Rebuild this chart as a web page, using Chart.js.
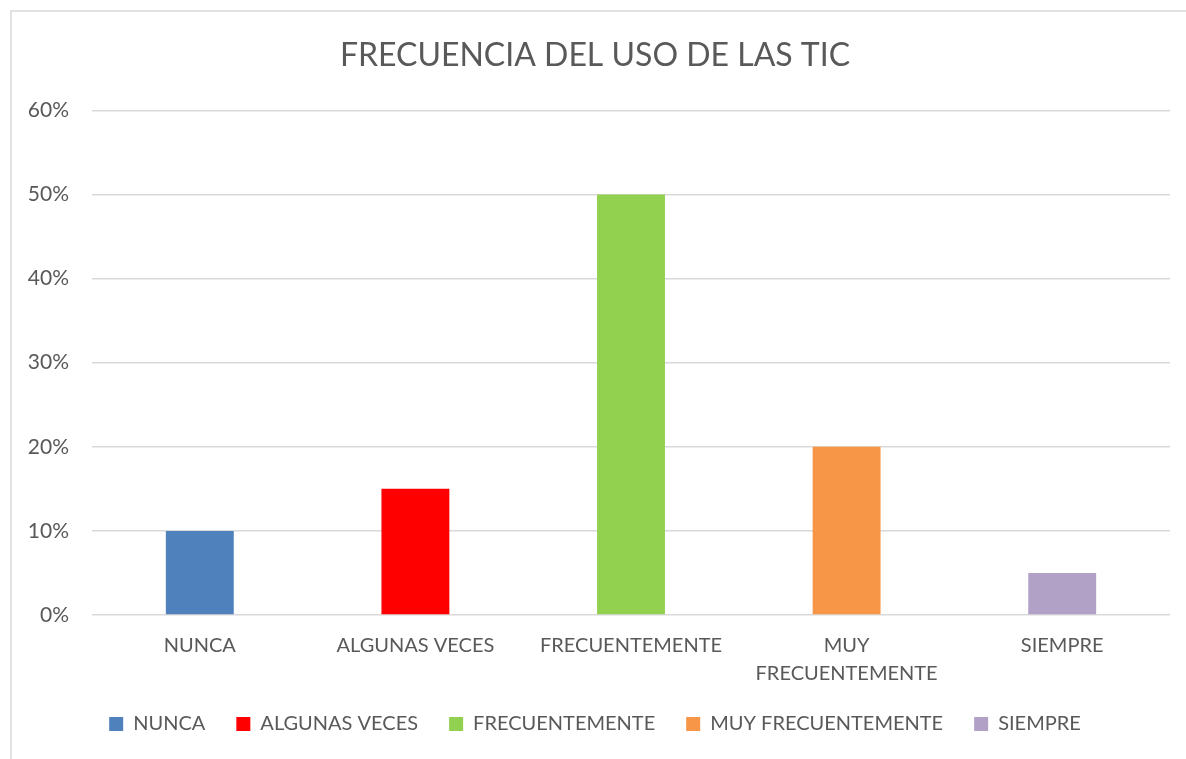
<!DOCTYPE html>
<html>
<head>
<meta charset="utf-8">
<script src="https://cdn.jsdelivr.net/npm/chart.js@4"></script>
<style>
  html, body { margin: 0; padding: 0; background: #fff; }
  #wrap { position: relative; width: 1186px; height: 759px; }
</style>
</head>
<body>
<div id="wrap"><canvas id="chart"></canvas></div>
<script>
const categories = ['NUNCA', 'ALGUNAS VECES', 'FRECUENTEMENTE', 'MUY FRECUENTEMENTE', 'SIEMPRE'];
const axisLabels = ['NUNCA', 'ALGUNAS VECES', 'FRECUENTEMENTE', ['MUY', 'FRECUENTEMENTE'], 'SIEMPRE'];
const values = [10, 15, 50, 20, 5];
const colors = ['#4F81BD', '#FF0000', '#92D050', '#F79646', '#B2A1C7'];
const titleText = 'FRECUENCIA DEL USO DE LAS TIC';

const FONT = 'Lato, "Open Sans", sans-serif';
const TEXT = '#595959';

// light frame like the Excel chart area
const framePlugin = {
  id: 'frame',
  beforeDraw(chart) {
    const ctx = chart.ctx;
    ctx.save();
    ctx.strokeStyle = '#D9D9D9';
    ctx.lineWidth = 1.5;
    ctx.strokeRect(11, 11, 3000, 3000);
    ctx.restore();
  }
};

new Chart(document.getElementById('chart'), {
  type: 'bar',
  data: {
    labels: axisLabels,
    datasets: [{
      data: values,
      backgroundColor: colors,
      barPercentage: 0.315,
      categoryPercentage: 1
    }]
  },
  options: {
    responsive: true,
    maintainAspectRatio: false,
    animation: false,
    layout: { padding: { left: 20, right: 16, top: 10, bottom: 15 } },
    plugins: {
      title: {
        display: true,
        text: titleText,
        color: TEXT,
        font: { family: FONT, size: 32, weight: 'normal' },
        padding: { top: 26, bottom: 36 }
      },
      legend: {
        position: 'bottom',
        labels: {
          color: TEXT,
          font: { family: FONT, size: 20 },
          boxWidth: 14,
          boxHeight: 14,
          padding: 31,
          generateLabels: () => categories.map((c, i) => ({
            text: c,
            fillStyle: colors[i],
            strokeStyle: colors[i],
            lineWidth: 0,
            hidden: false,
            index: i,
            fontColor: TEXT
          }))
        },
        onClick: () => {}
      },
      tooltip: { enabled: false }
    },
    scales: {
      x: {
        grid: { display: false },
        border: { display: false },
        ticks: {
          color: TEXT,
          font: { family: FONT, size: 20, lineHeight: 1.4 },
          maxRotation: 0,
          autoSkip: false,
          padding: 9
        },
        afterFit: (s) => { s.height = 68; }
      },
      y: {
        min: 0,
        max: 60,
        ticks: {
          stepSize: 10,
          color: TEXT,
          font: { family: FONT, size: 21 },
          padding: 23,
          callback: (v) => v + '%'
        },
        grid: { color: '#D9D9D9', lineWidth: 1.5, drawTicks: false },
        border: { display: false },
        afterFit: (s) => { s.width = 72; }
      }
    }
  },
  plugins: [framePlugin]
});
</script>
</body>
</html>
